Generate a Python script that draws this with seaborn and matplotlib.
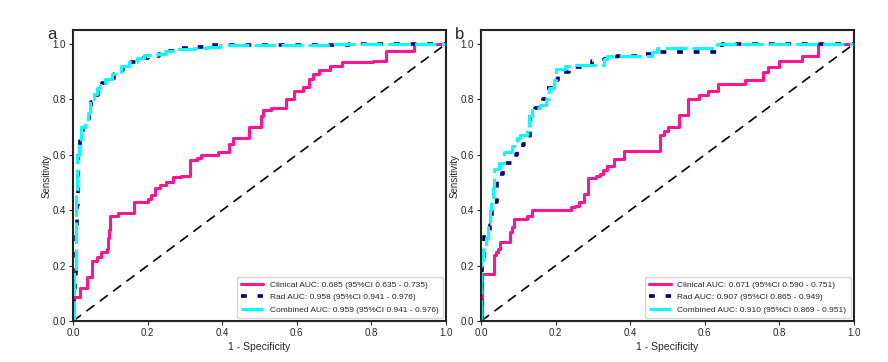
import pandas as pd
import seaborn as sns
import matplotlib.pyplot as plt

# ROC step points (fpr where tpr rises, new tpr)
clin_a_fpr = [0, 0.003, 0.018, 0.02, 0.038, 0.05, 0.065, 0.076, 0.09, 0.093, 0.097, 0.10, 0.12, 0.163, 0.2, 0.21,
              0.22, 0.234, 0.25, 0.268, 0.29, 0.313, 0.315, 0.333, 0.342, 0.39, 0.418, 0.428, 0.471, 0.503, 0.51,
              0.53, 0.57, 0.592, 0.616, 0.632, 0.644, 0.659, 0.69, 0.722, 0.805, 0.838, 0.914, 1.0]
clin_a_tpr = [0, 0.088, 0.10, 0.12, 0.16, 0.215, 0.23, 0.25, 0.26, 0.30, 0.33, 0.38, 0.39, 0.43, 0.44, 0.455,
              0.48, 0.49, 0.50, 0.52, 0.525, 0.53, 0.58, 0.59, 0.60, 0.61, 0.64, 0.66, 0.70, 0.74, 0.76,
              0.77, 0.80, 0.83, 0.845, 0.875, 0.89, 0.905, 0.92, 0.935, 0.94, 0.975, 1.0, 1.0]

rad_a_fpr = [0, 0.002, 0.005, 0.008, 0.010, 0.014, 0.018, 0.026, 0.034, 0.042, 0.048, 0.058, 0.068, 0.078, 0.09,
             0.11, 0.12, 0.135, 0.155, 0.176, 0.2, 0.23, 0.255, 0.29, 0.33, 0.37, 0.74, 1.0]
rad_a_tpr = [0, 0.12, 0.17, 0.31, 0.42, 0.62, 0.66, 0.71, 0.73, 0.76, 0.79, 0.815, 0.84, 0.86, 0.87,
             0.89, 0.905, 0.92, 0.935, 0.95, 0.955, 0.965, 0.975, 0.985, 0.99, 0.995, 1.0, 1.0]

comb_a_fpr = [0, 0.002, 0.004, 0.007, 0.009, 0.012, 0.015, 0.022, 0.032, 0.04, 0.045, 0.055, 0.064, 0.073, 0.087,
              0.105, 0.118, 0.13, 0.15, 0.172, 0.19, 0.225, 0.248, 0.28, 0.324, 0.36, 0.395, 0.70, 1.0]
comb_a_tpr = [0, 0.10, 0.17, 0.30, 0.45, 0.60, 0.64, 0.70, 0.72, 0.75, 0.80, 0.82, 0.84, 0.86, 0.875,
              0.89, 0.90, 0.92, 0.935, 0.95, 0.96, 0.965, 0.975, 0.98, 0.985, 0.99, 0.995, 1.0, 1.0]

clin_b_fpr = [0, 0.002, 0.034, 0.041, 0.045, 0.052, 0.077, 0.083, 0.088, 0.122, 0.137, 0.24, 0.253, 0.262, 0.275,
              0.286, 0.307, 0.32, 0.327, 0.338, 0.356, 0.383, 0.479, 0.49, 0.502, 0.53, 0.556, 0.584, 0.608,
              0.635, 0.709, 0.757, 0.77, 0.799, 0.86, 0.904, 1.0]
clin_b_tpr = [0, 0.17, 0.24, 0.25, 0.26, 0.285, 0.32, 0.34, 0.37, 0.38, 0.40, 0.41, 0.415, 0.43, 0.46,
              0.515, 0.525, 0.53, 0.545, 0.56, 0.585, 0.615, 0.67, 0.685, 0.70, 0.745, 0.80, 0.815, 0.83,
              0.855, 0.87, 0.90, 0.915, 0.94, 0.955, 1.0, 1.0]

rad_b_fpr = [0, 0.003, 0.008, 0.025, 0.03, 0.043, 0.06, 0.085, 0.097, 0.113, 0.13, 0.145, 0.165, 0.175, 0.193,
             0.206, 0.235, 0.298, 0.33, 0.365, 0.428, 0.472, 0.645, 1.0]
rad_b_tpr = [0, 0.21, 0.32, 0.345, 0.43, 0.53, 0.57, 0.60, 0.62, 0.64, 0.75, 0.77, 0.80, 0.84, 0.87,
             0.90, 0.915, 0.94, 0.945, 0.955, 0.965, 0.97, 1.0, 1.0]

comb_b_fpr = [0, 0, 0.005, 0.013, 0.018, 0.023, 0.027, 0.031, 0.034, 0.047, 0.061, 0.083, 0.097, 0.105, 0.122,
              0.128, 0.137, 0.159, 0.175, 0.182, 0.195, 0.2, 0.226, 0.249, 0.329, 0.338, 0.459, 0.472, 0.633, 1.0]
comb_b_tpr = [0, 0.22, 0.27, 0.30, 0.35, 0.40, 0.44, 0.48, 0.55, 0.57, 0.61, 0.63, 0.66, 0.67, 0.70,
              0.74, 0.77, 0.78, 0.80, 0.84, 0.87, 0.91, 0.92, 0.925, 0.945, 0.955, 0.97, 0.985, 1.0, 1.0]

labels_a = ['Clinical AUC: 0.685 (95%CI 0.635 - 0.735)',
            'Rad AUC: 0.958 (95%CI 0.941 - 0.976)',
            'Combined AUC: 0.959 (95%CI 0.941 - 0.976)']
labels_b = ['Clinical AUC: 0.671 (95%CI 0.590 - 0.751)',
            'Rad AUC: 0.907 (95%CI 0.865 - 0.949)',
            'Combined AUC: 0.910 (95%CI 0.869 - 0.951)']

sns.set_style('white')
plt.rcParams['font.family'] = ['Liberation Sans', 'DejaVu Sans']

fig = plt.figure(figsize=(8.88, 3.62), dpi=100)
ax_a = fig.add_axes([0.0822, 0.113, 0.42, 0.804])
ax_b = fig.add_axes([0.5417, 0.113, 0.42, 0.804])


def draw(ax, curves, labels, letter):
    ax.plot([0, 1], [0, 1], color='black', linestyle=(0, (6, 4)), lw=1.2)
    styles = [dict(color='deeppink', lw=2.2),
              dict(color='navy', lw=2.6, dashes=(1.6, 3)),
              dict(color='cyan', lw=2.2, dashes=(7, 1.8))]
    for (fpr, tpr), lab, st in zip(curves, labels, styles):
        df = pd.DataFrame({'fpr': fpr, 'tpr': tpr})
        sns.lineplot(data=df, x='fpr', y='tpr', ax=ax, sort=False, estimator=None,
                     drawstyle='steps-post', label=lab, **st)
    ax.set_xlim(0, 1)
    ax.set_ylim(0, 1.05)
    ax.set_xticks([0, 0.2, 0.4, 0.6, 0.8, 1.0])
    ax.set_yticks([0, 0.2, 0.4, 0.6, 0.8, 1.0])
    ax.tick_params(labelsize=7, length=3, width=0.8, direction='out', bottom=True, left=True, pad=2)
    ax.set_xlabel('1 - Specificity', fontsize=7.5, labelpad=3)
    ax.set_ylabel('Sensitivity', fontsize=7, labelpad=1)
    for s in ax.spines.values():
        s.set_linewidth(1.5)
        s.set_color('#222222')
    ax.legend(loc='lower right', fontsize=6.0, frameon=True, handlelength=2.6,
              borderpad=0.5, labelspacing=0.55, edgecolor='#cccccc', borderaxespad=0.4)
    ax.text(-0.07, 1.01, letter, transform=ax.transAxes, fontsize=12, va='top', ha='left')


draw(ax_a, [(clin_a_fpr, clin_a_tpr), (rad_a_fpr, rad_a_tpr), (comb_a_fpr, comb_a_tpr)], labels_a, 'a')
draw(ax_b, [(clin_b_fpr, clin_b_tpr), (rad_b_fpr, rad_b_tpr), (comb_b_fpr, comb_b_tpr)], labels_b, 'b')

plt.savefig('out.png', dpi=100)
